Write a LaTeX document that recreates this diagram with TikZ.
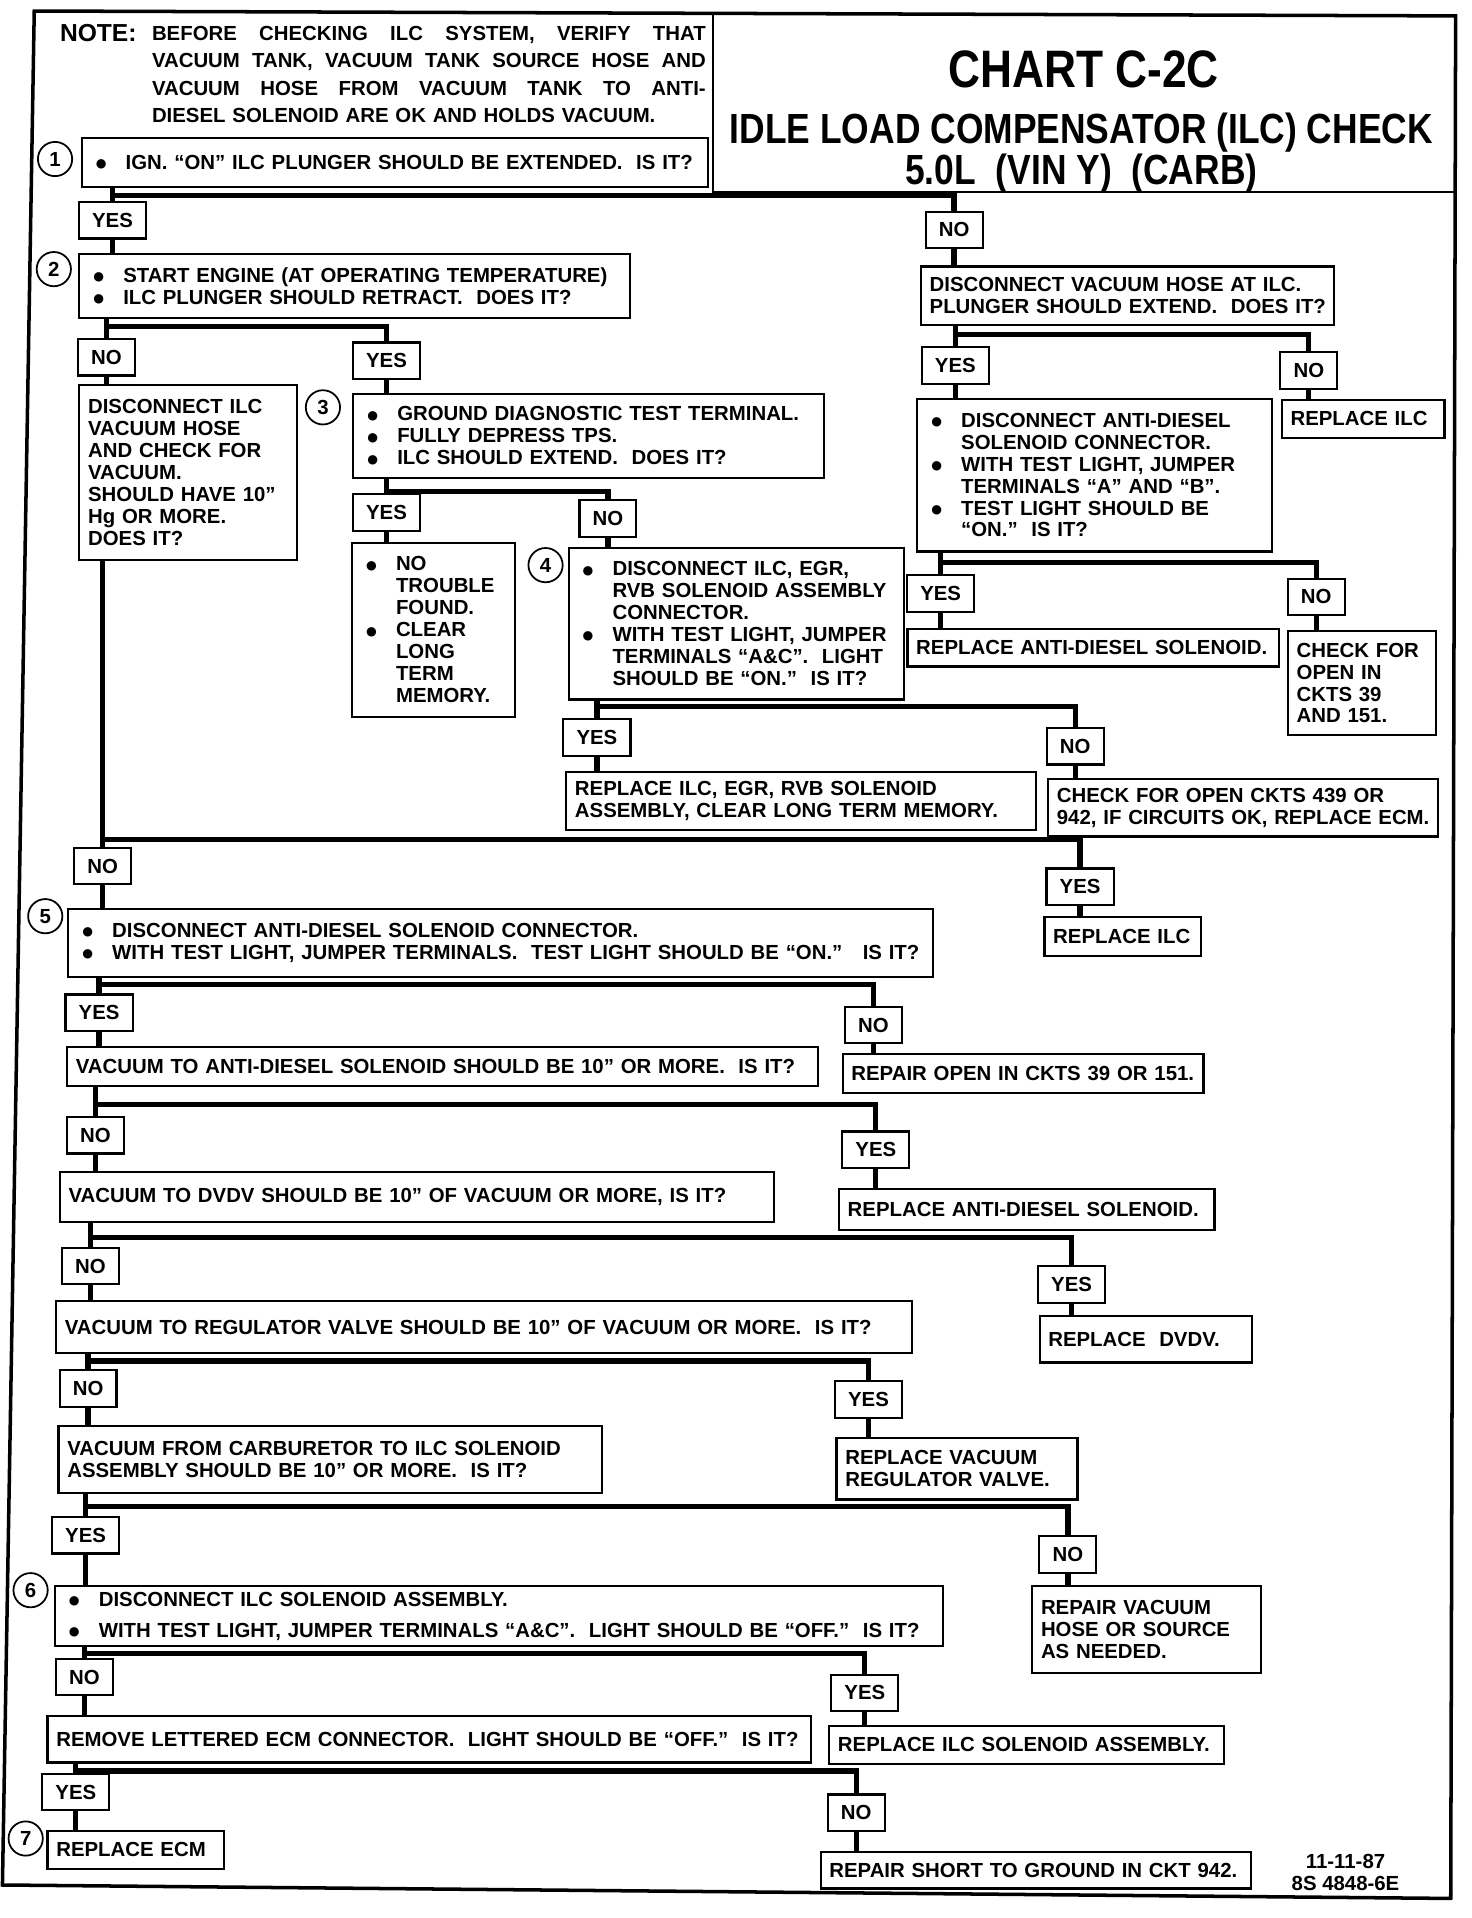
\documentclass[tikz,border=0pt]{standalone}
\usepackage{fontspec}
\setmainfont{Liberation Sans}
\newfontfamily\titlefont[FakeStretch=0.84]{Liberation Sans}
\newfontfamily\dotfont{DejaVu Sans}
\usetikzlibrary{positioning}

\newcommand{\dpx}{0.02447cm}
\newlength{\notewd}
\setlength{\notewd}{11.08cm}
\newcommand{\chartfont}{\fontsize{11.6}{12.5}\selectfont\bfseries}
\newcommand{\itm}{\hspace*{3pt}\makebox[17pt][l]{\raisebox{1pt}{\dotfont\fontsize{7}{7}\selectfont ●}}}
\newcommand{\itmskip}{\hspace*{20pt}}
\newcommand{\spreadline}[1]{\makebox[\notewd][s]{\spaceskip=0.3em plus 1fil\relax #1}}

\begin{document}
\begin{tikzpicture}[
  x=0.02447cm, y=-0.02447cm,
  box/.style 2 args={draw, line width=1.2pt, anchor=north west, inner xsep=5pt, inner ysep=2pt,
    align=left, text width=#1*\dpx-10pt, minimum height=#2*\dpx, font=\chartfont},
  ans/.style={draw, line width=1.2pt, minimum height=30*\dpx, inner xsep=7.5pt, inner ysep=1pt, font=\chartfont},
  num/.style={circle, draw, line width=1pt, minimum size=28*\dpx, inner sep=0pt, font=\chartfont},
  link/.style={line width=3pt}
]
  \useasboundingbox (0,0) rectangle (1203,1568);

  % Frame and title block
  \draw[line width=2pt] (28,9) -- (1190,13) -- (1186,1552) -- (2,1541) -- cycle;
  \draw[line width=1.5pt] (583,11) -- (583,157) -- (1189,157);
  \node[font=\titlefont\bfseries\fontsize{30}{30}\selectfont] (t1) at (886,57) {CHART C-2C};
  \node[align=center, inner sep=0pt, font=\titlefont\bfseries\fontsize{24}{21}\selectfont] (t2) at (884,125)
    {IDLE LOAD COMPENSATOR (ILC) CHECK\\5.0L\ \ (VIN Y)\ \ (CARB)};

  % Note
  \node[anchor=west, font=\bfseries\fontsize{14}{14}\selectfont] (notelbl) at (44,27) {NOTE:};
  \node[anchor=north west, inner sep=0pt, text width=\notewd, align=left,
    font=\bfseries\fontsize{11.6}{15.6}\selectfont] (note) at (124,21)
    {\spreadline{BEFORE CHECKING ILC SYSTEM, VERIFY THAT}\\
     \spreadline{VACUUM TANK, VACUUM TANK SOURCE HOSE AND}\\
     \spreadline{VACUUM HOSE FROM VACUUM TANK TO ANTI-}\\
     DIESEL SOLENOID ARE OK AND HOLDS VACUUM.};

  % Step 1
  \node[num] (c1) at (45,130) {1};
  \node[box={512}{40}] (q1) at (66,112) {\itm IGN. “ON” ILC PLUNGER SHOULD BE EXTENDED.\ \ IS IT?};
  \node[ans] (y1) at (92,180) {YES};
  \node[ans] (n1) at (780,188) {NO};

  % Step 2
  \node[num] (c2) at (44,220) {2};
  \node[box={450}{52}] (q2) at (64,207)
    {\itm START ENGINE (AT OPERATING TEMPERATURE)\\\itm ILC PLUNGER SHOULD RETRACT.\ \ DOES IT?};
  \node[ans] (n2) at (87,292) {NO};
  \node[ans] (y2) at (316,295) {YES};
  \node[box={178}{143}] (vh) at (64,314)
    {DISCONNECT ILC\\VACUUM HOSE\\AND CHECK FOR\\VACUUM.\\SHOULD HAVE 10”\\Hg OR MORE.\\DOES IT?};

  % Step 3
  \node[num] (c3) at (264,333) {3};
  \node[box={385}{69}] (q3) at (288,321)
    {\itm GROUND DIAGNOSTIC TEST TERMINAL.\\\itm FULLY DEPRESS TPS.\\\itm ILC SHOULD EXTEND.\ \ DOES IT?};
  \node[ans] (y3) at (316,419) {YES};
  \node[ans] (n3) at (497,424) {NO};
  \node[box={133}{142}] (nt) at (287,443)
    {\itm NO\\\itmskip TROUBLE\\\itmskip FOUND.\\\itm CLEAR\\\itmskip LONG\\\itmskip TERM\\\itmskip MEMORY.};

  % Step 4
  \node[num] (c4) at (446,462) {4};
  \node[box={274}{124}] (q4) at (464,447)
    {\itm DISCONNECT ILC, EGR,\\\itmskip RVB SOLENOID ASSEMBLY\\\itmskip CONNECTOR.\\
     \itm WITH TEST LIGHT, JUMPER\\\itmskip TERMINALS “A\&C”.\ \ LIGHT\\\itmskip SHOULD BE “ON.”\ \ IS IT?};
  \node[ans] (y4) at (488,603) {YES};
  \node[ans] (n4) at (879,610) {NO};
  \node[box={384}{48}] (r4y) at (462,630) {REPLACE ILC, EGR, RVB SOLENOID\\ASSEMBLY, CLEAR LONG TERM MEMORY.};
  \node[box={319}{47}] (r4n) at (856,636) {CHECK FOR OPEN CKTS 439 OR\\942, IF CIRCUITS OK, REPLACE ECM.};

  % Right branch
  \node[box={338}{48}] (qr) at (752,217)
    {\mbox{DISCONNECT VACUUM HOSE AT ILC.}\\\mbox{PLUNGER SHOULD EXTEND.\ \ DOES IT?}};
  \node[ans] (yr) at (781,299) {YES};
  \node[ans] (nr) at (1070,303) {NO};
  \node[box={133}{31}] (rilc1) at (1047,326) {REPLACE ILC};
  \node[box={290}{125}] (qad) at (749,325)
    {\itm DISCONNECT ANTI-DIESEL\\\itmskip SOLENOID CONNECTOR.\\\itm WITH TEST LIGHT, JUMPER\\
     \itmskip TERMINALS “A” AND “B”.\\\itm TEST LIGHT SHOULD BE\\\itmskip “ON.”\ \ IS IT?};
  \node[ans] (yad) at (769,485) {YES};
  \node[ans] (nad) at (1076,488) {NO};
  \node[box={304}{31}] (rad1) at (741,513) {REPLACE ANTI-DIESEL SOLENOID.};
  \node[box={121}{85}] (ckt) at (1052,515) {CHECK FOR\\OPEN IN\\CKTS 39\\AND 151.};

  % Step 5
  \node[ans] (n5) at (84,708) {NO};
  \node[ans] (y5r) at (883,725) {YES};
  \node[box={128}{32}] (rilc2) at (853,749) {REPLACE ILC};
  \node[num] (c5) at (37,749) {5};
  \node[box={707}{56}] (q5) at (55,742)
    {\itm DISCONNECT ANTI-DIESEL SOLENOID CONNECTOR.\\
     \mbox{\itm WITH TEST LIGHT, JUMPER TERMINALS.\ \ TEST LIGHT SHOULD BE “ON.”\ \ \ IS IT?}};
  \node[ans] (y5) at (81,828) {YES};
  \node[ans] (n5b) at (714,838) {NO};
  \node[box={614}{32}] (qv1) at (54,855) {VACUUM TO ANTI-DIESEL SOLENOID SHOULD BE 10” OR MORE.\ \ IS IT?};
  \node[box={295}{32}] (ro) at (688,861) {REPAIR OPEN IN CKTS 39 OR 151.};
  \node[ans] (nv1) at (78,928) {NO};
  \node[ans] (yv1) at (716,940) {YES};
  \node[box={307}{34}] (rad2) at (685,971) {REPLACE ANTI-DIESEL SOLENOID.};
  \node[box={584}{41}] (qv2) at (48,957) {VACUUM TO DVDV SHOULD BE 10” OF VACUUM OR MORE, IS IT?};
  \node[ans] (nv2) at (74,1035) {NO};
  \node[ans] (yv2) at (876,1050) {YES};
  \node[box={174}{38}] (rdv) at (849,1075) {REPLACE\ \ DVDV.};
  \node[box={700}{42}] (qv3) at (45,1063)
    {\mbox{VACUUM TO REGULATOR VALVE SHOULD BE 10” OF VACUUM OR MORE.\ \ IS IT?}};
  \node[ans] (nv3) at (72,1135) {NO};
  \node[ans] (yv3) at (710,1144) {YES};
  \node[box={197}{50}] (rvr) at (683,1175) {REPLACE VACUUM\\REGULATOR VALVE.};
  \node[box={444}{55}] (qv4) at (47,1165) {VACUUM FROM CARBURETOR TO ILC SOLENOID\\ASSEMBLY SHOULD BE 10” OR MORE.\ \ IS IT?};
  \node[ans] (yv4) at (70,1255) {YES};
  \node[ans] (nv4) at (873,1271) {NO};
  \node[box={187}{71}] (rvh) at (843,1296) {REPAIR VACUUM\\HOSE OR SOURCE\\AS NEEDED.};

  % Step 6
  \node[num] (c6) at (25,1300) {6};
  \node[box={726}{49}] (q6) at (44,1296)
    {\itm DISCONNECT ILC SOLENOID ASSEMBLY.\\[5pt]
     \mbox{\itm WITH TEST LIGHT, JUMPER TERMINALS “A\&C”.\ \ LIGHT SHOULD BE “OFF.”\ \ IS IT?}};
  \node[ans] (n6) at (69,1371) {NO};
  \node[ans] (y6) at (707,1384) {YES};
  \node[box={323}{31}] (rsa) at (677,1410) {REPLACE ILC SOLENOID ASSEMBLY.};
  \node[box={624}{38}] (qe) at (38,1402)
    {\mbox{REMOVE LETTERED ECM CONNECTOR.\ \ LIGHT SHOULD BE “OFF.”\ \ IS IT?}};
  \node[ans] (ye) at (62,1465) {YES};
  \node[ans] (ne) at (700,1482) {NO};

  % Step 7
  \node[num] (c7) at (21,1503) {7};
  \node[box={144}{31}] (recm) at (38,1496) {REPLACE ECM};
  \node[box={352}{30}] (rsh) at (670,1513) {REPAIR SHORT TO GROUND IN CKT 942.};
  \node[align=center, font=\chartfont] (code) at (1100,1531) {11-11-87\\8S 4848-6E};

  % Connectors
  \draw[link] (q1.south -| y1) -- (y1.north);
  \draw[link] (q1.south -| y1) ++(0,6) -| (n1.north);
  \draw[link] (y1.south) -- (y1.south |- q2.north);
  \draw[link] (n1.south) -- (n1.south |- qr.north);

  \draw[link] (q2.south -| n2) -- (n2.north);
  \draw[link] (q2.south -| n2) ++(0,6) -| (y2.north);
  \draw[link] (n2.south) -- (n2.south |- vh.north);
  \draw[link] (y2.south) -- (y2.south |- q3.north);

  \draw[link] (q3.south -| y3) -- (y3.north);
  \draw[link] (q3.south -| y3) ++(0,10) -| (n3.north);
  \draw[link] (y3.south) -- (y3.south |- nt.north);
  \draw[link] (n3.south) -- (n3.south |- q4.north);

  \draw[link] (q4.south -| y4) -- (y4.north);
  \draw[link] (q4.south -| y4) ++(0,5) -| (n4.north);
  \draw[link] (y4.south) -- (y4.south |- r4y.north);
  \draw[link] (n4.south) -- (n4.south |- r4n.north);

  \draw[link] (qr.south -| yr) -- (yr.north);
  \draw[link] (qr.south -| yr) ++(0,7) -| (nr.north);
  \draw[link] (yr.south) -- (yr.south |- qad.north);
  \draw[link] (nr.south) -- (nr.south |- rilc1.north);

  \draw[link] (qad.south -| yad) -- (yad.north);
  \draw[link] (qad.south -| yad) ++(0,8) -| (nad.north);
  \draw[link] (yad.south) -- (yad.south |- rad1.north);
  \draw[link] (nad.south) -- (nad.south |- ckt.north);

  \draw[link] (vh.south -| n5) -- (n5.north);
  \draw[link] (n5.north) ++(0,-6) -| (y5r.north);
  \draw[link] (n5.south) -- (n5.south |- q5.north);
  \draw[link] (y5r.south) -- (y5r.south |- rilc2.north);

  \draw[link] (q5.south -| y5) -- (y5.north);
  \draw[link] (q5.south -| y5) ++(0,5) -| (n5b.north);
  \draw[link] (y5.south) -- (y5.south |- qv1.north);
  \draw[link] (n5b.south) -- (n5b.south |- ro.north);

  \draw[link] (qv1.south -| nv1) -- (nv1.north);
  \draw[link] (qv1.south -| nv1) ++(0,14) -| (yv1.north);
  \draw[link] (nv1.south) -- (nv1.south |- qv2.north);
  \draw[link] (yv1.south) -- (yv1.south |- rad2.north);

  \draw[link] (qv2.south -| nv2) -- (nv2.north);
  \draw[link] (qv2.south -| nv2) ++(0,12) -| (yv2.north);
  \draw[link] (nv2.south) -- (nv2.south |- qv3.north);
  \draw[link] (yv2.south) -- (yv2.south |- rdv.north);

  \draw[link] (qv3.south -| nv3) -- (nv3.north);
  \draw[link] (qv3.south -| nv3) ++(0,6) -| (yv3.north);
  \draw[link] (nv3.south) -- (nv3.south |- qv4.north);
  \draw[link] (yv3.south) -- (yv3.south |- rvr.north);

  \draw[link] (qv4.south -| yv4) -- (yv4.north);
  \draw[link] (qv4.south -| yv4) ++(0,10) -| (nv4.north);
  \draw[link] (yv4.south) -- (yv4.south |- q6.north);
  \draw[link] (nv4.south) -- (nv4.south |- rvh.north);

  \draw[link] (q6.south -| n6) -- (n6.north);
  \draw[link] (q6.south -| n6) ++(0,5) -| (y6.north);
  \draw[link] (n6.south) -- (n6.south |- qe.north);
  \draw[link] (y6.south) -- (y6.south |- rsa.north);

  \draw[link] (qe.south -| ye) -- (ye.north);
  \draw[link] (qe.south -| ye) ++(0,6) -| (ne.north);
  \draw[link] (ye.south) -- (ye.south |- recm.north);
  \draw[link] (ne.south) -- (ne.south |- rsh.north);
\end{tikzpicture}
\end{document}
